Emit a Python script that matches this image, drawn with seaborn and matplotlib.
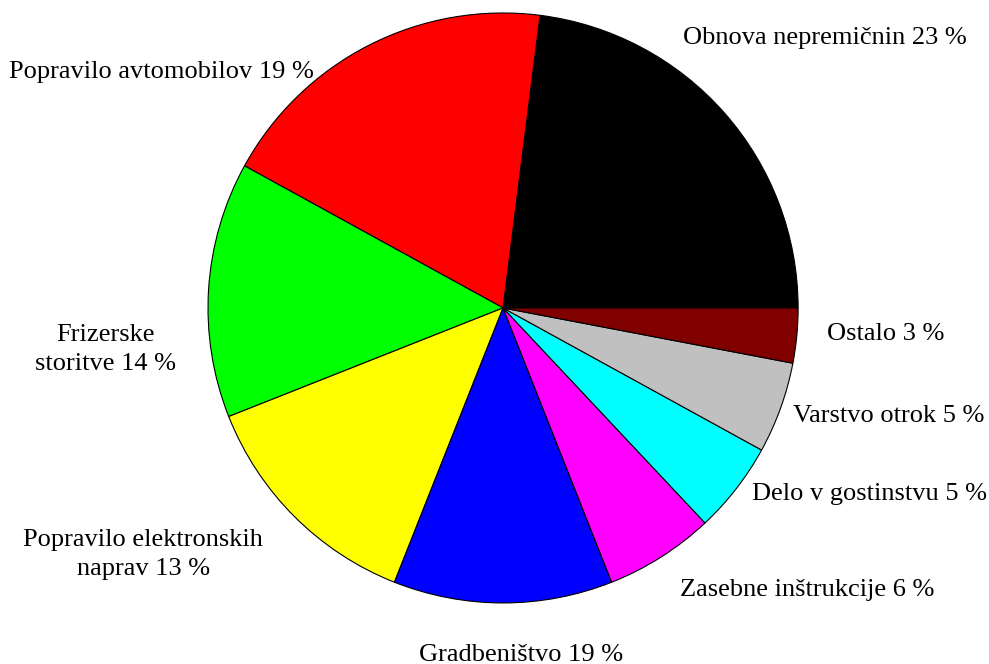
import matplotlib
matplotlib.use("Agg")
import matplotlib.pyplot as plt
import seaborn as sns

# slice sizes (percent of the circle)
categories = ["Obnova nepremičnin", "Popravilo avtomobilov", "Frizerske storitve",
              "Popravilo elektronskih naprav", "Gradbeništvo", "Zasebne inštrukcije",
              "Delo v gostinstvu", "Varstvo otrok", "Ostalo"]
shares = [23, 19, 14, 13, 12, 6, 5, 5, 3]
# label texts as printed on the chart
label_texts = ["Obnova nepremičnin 23 %", "Popravilo avtomobilov 19 %", "Frizerske\nstoritve 14 %",
               "Popravilo elektronskih\nnaprav 13 %", "Gradbeništvo 19 %", "Zasebne inštrukcije 6 %",
               "Delo v gostinstvu 5 %", "Varstvo otrok 5 %", "Ostalo 3 %"]
slice_colors = ["#000000", "#ff0000", "#00ff00", "#ffff00", "#0000ff",
                "#ff00ff", "#00ffff", "#c0c0c0", "#800000"]

# label placement (in pie radius units)
label_pos = [(1.092, 0.915), (-1.159, 0.80), (-1.346, -0.142), (-1.220, -0.837),
             (0.061, -1.176), (1.031, -0.956), (1.241, -0.631), (1.308, -0.366),
             (1.298, -0.088)]

sns.set_style("white")
plt.rcParams["font.family"] = ["Liberation Serif", "DejaVu Serif"]

fig = plt.figure(figsize=(9.89, 6.64), dpi=100)
ax = fig.add_axes([0, 0, 1, 1])
ax.pie(shares, colors=slice_colors, startangle=0, counterclock=True,
       wedgeprops=dict(edgecolor="black", linewidth=0.8))
for txt, (x, y) in zip(label_texts, label_pos):
    ax.text(x, y, txt, ha="center", va="center", fontsize=19, color="black",
            multialignment="center", linespacing=1.4)

ax.set_xlim(-1.705, 1.647)
ax.set_ylim(-1.207, 1.044)
ax.set_aspect("auto")
ax.axis("off")

fig.savefig("out.png", dpi=100, facecolor="white")
